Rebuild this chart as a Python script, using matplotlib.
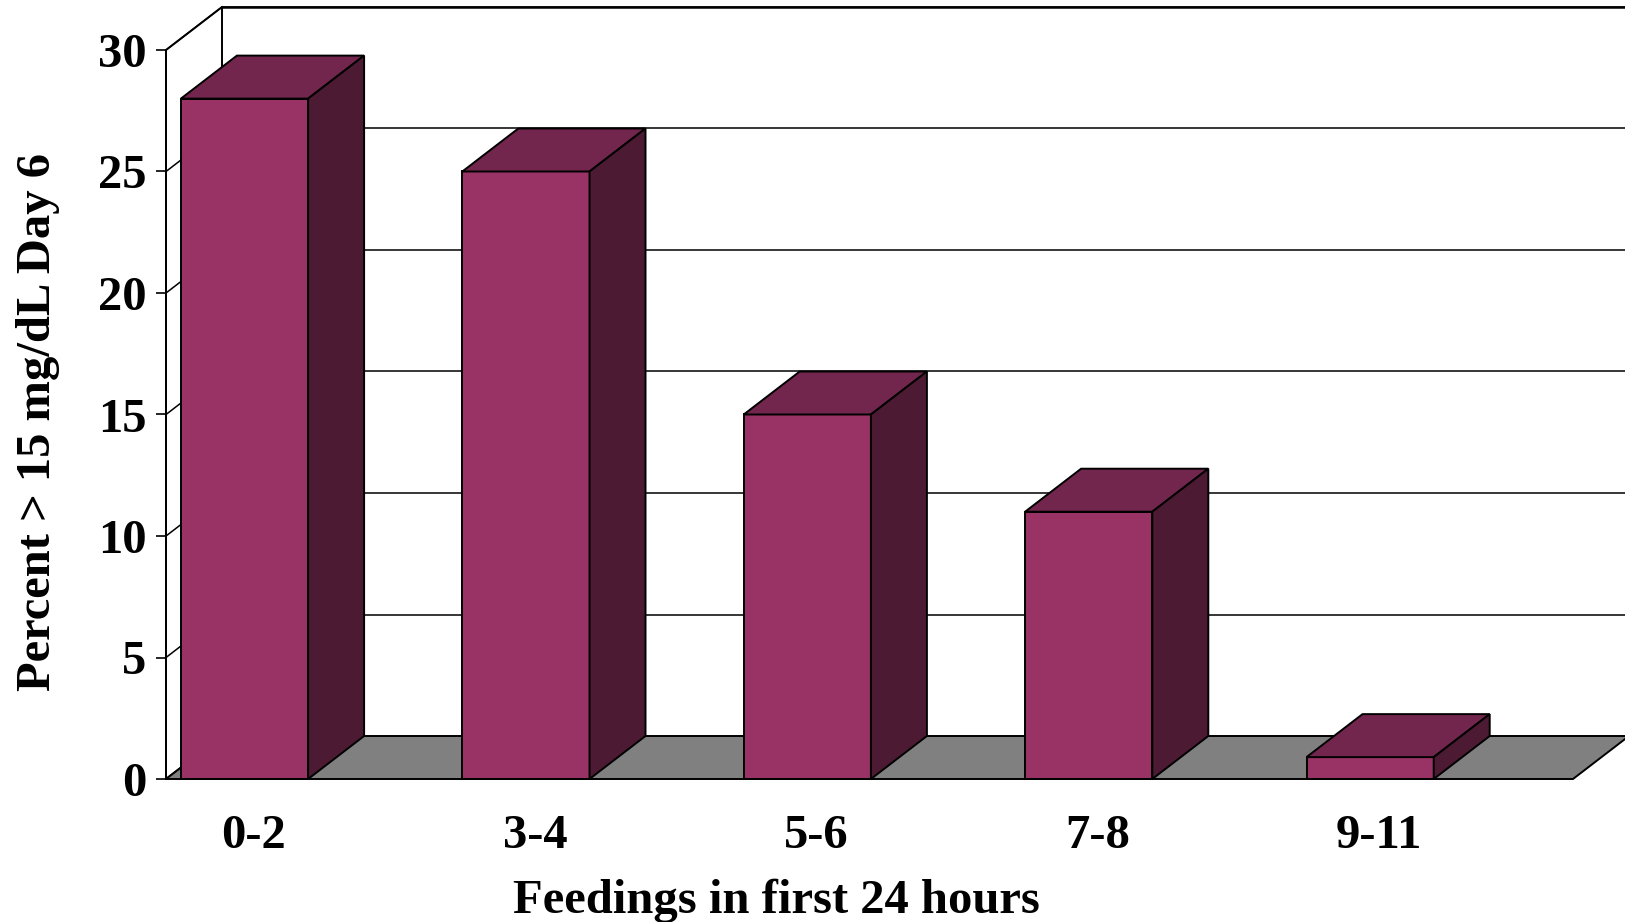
import matplotlib
matplotlib.use("Agg")
import matplotlib.pyplot as plt
from matplotlib.patches import Polygon

# data
categories = ["0-2", "3-4", "5-6", "7-8", "9-11"]
percent = [28, 25, 15, 11, 0.9]
y_ticks = [0, 5, 10, 15, 20, 25, 30]

FRONT = "#993366"
TOP = "#73264D"
SIDE = "#4D1A33"
FLOOR = "#808080"

plt.rcParams["font.family"] = ["Liberation Serif", "DejaVu Serif"]
plt.rcParams["font.weight"] = "bold"

W, H = 1625, 922
fig = plt.figure(figsize=(W / 100, H / 100), dpi=100)
ax = fig.add_axes([166 / W, 143 / H, (1573 - 166) / W, (779 - 50) / H])
n = len(categories)
ymax = y_ticks[-1]
ax.set_xlim(0, n)
ax.set_ylim(0, ymax)

# depth offset of the fake 3d box, in data units
dx = 56 / 281.4
dy = 43 / 24.3
bar_off = 0.053
bar_w = 0.452

ec = dict(edgecolor="black", linewidth=1.4, clip_on=False)

# left side wall and back wall gridlines
ax.add_patch(Polygon([(0, 0), (dx, dy), (dx, ymax + dy), (0, ymax)],
                     facecolor="white", zorder=1, **ec))
for v in y_ticks[1:]:
    ax.plot([0, dx], [v, v + dy], color="black", lw=1.1, clip_on=False, zorder=1)
    ax.plot([dx, n + dx], [v + dy, v + dy], color="black", lw=1.1,
            clip_on=False, zorder=1)
ax.plot([dx, n + dx], [ymax + dy, ymax + dy], color="black", lw=1.8,
        clip_on=False, zorder=1)

# floor
ax.add_patch(Polygon([(0, 0), (n, 0), (n + dx, dy), (dx, dy)],
                     facecolor=FLOOR, zorder=2, **ec))

# bars
for i, v in enumerate(percent):
    x0 = i + bar_off
    x1 = x0 + bar_w
    ax.add_patch(Polygon([(x0, 0), (x1, 0), (x1, v), (x0, v)],
                         facecolor=FRONT, zorder=3, **ec))
    ax.add_patch(Polygon([(x0, v), (x1, v), (x1 + dx, v + dy), (x0 + dx, v + dy)],
                         facecolor=TOP, zorder=3, **ec))
    ax.add_patch(Polygon([(x1, 0), (x1 + dx, dy), (x1 + dx, v + dy), (x1, v)],
                         facecolor=SIDE, zorder=3, **ec))

for s in ["top", "right", "bottom"]:
    ax.spines[s].set_visible(False)
ax.spines["left"].set_linewidth(1.4)
ax.spines["left"].set_zorder(4)
ax.set_facecolor("none")

ax.set_yticks(y_ticks)
ax.tick_params(axis="y", length=7.2, width=1.2, pad=7, labelsize=35)
# labels sit a little right of the bar fronts in the original
ax.set_xticks([i + bar_off + bar_w / 2 + 0.032 for i in range(n)])
ax.set_xticklabels(categories)
ax.tick_params(axis="x", length=0, pad=25, labelsize=35)

ax.set_xlabel("Feedings in first 24 hours", fontsize=35, fontweight="bold")
ax.xaxis.set_label_coords(0.434, -0.137)
ax.set_ylabel("Percent > 15 mg/dL Day 6", fontsize=35, fontweight="bold")
ax.yaxis.set_label_coords(-0.0755, 0.49)

fig.savefig("out.png", dpi=100)
